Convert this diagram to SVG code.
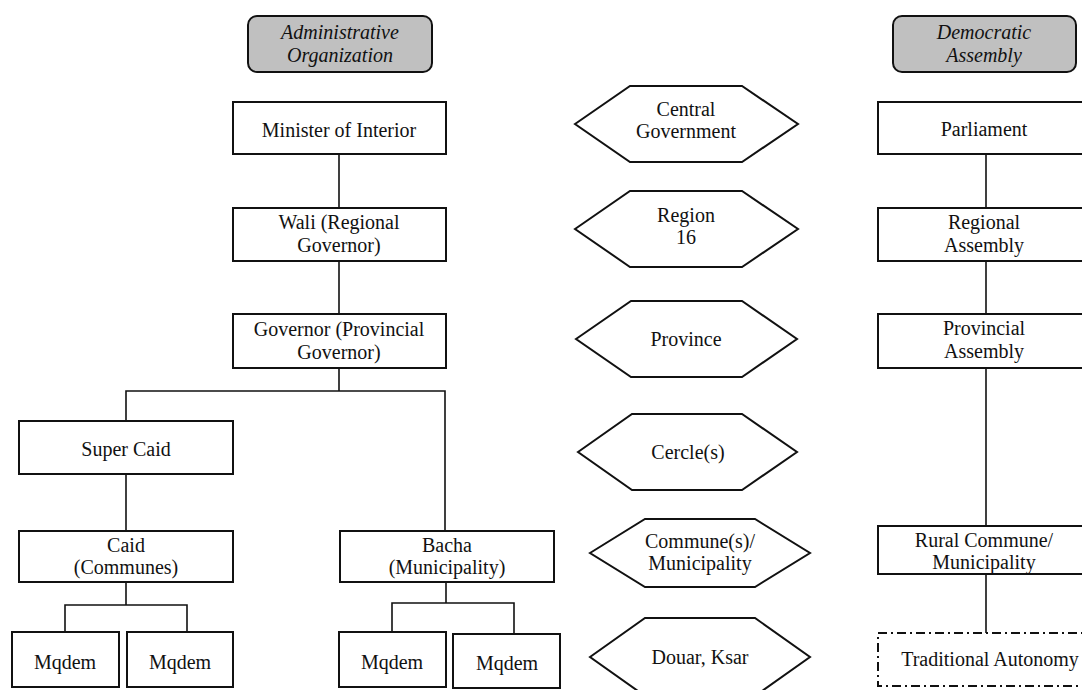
<svg xmlns="http://www.w3.org/2000/svg" width="1082" height="690" viewBox="0 0 1082 690" font-family="'Liberation Serif', 'Times New Roman', Times, serif">
  <style>
    text { font-family: 'Liberation Serif', 'Times New Roman', Times, serif; font-size: 20px; fill: #111; text-anchor: middle; }
    .head rect { fill: #c0c0c0; stroke: #111; stroke-width: 2; }
    .head text { font-style: italic; }
    .box rect, .hex polygon { fill: #fff; stroke: #111; stroke-width: 2; }
    .dashed rect { fill: #fff; stroke: #111; stroke-width: 2; stroke-dasharray: 9 4 2 4; }
    #connectors path { fill: none; stroke: #111; stroke-width: 1.6; }
  </style>

  <!-- connectors -->
  <g id="connectors">
    <path d="M339 154 V208 M339 261 V314"/>
    <path d="M339 368 V391 M126 421 V391 H445 V531"/>
    <path d="M126 474 V531"/>
    <path d="M126 582 V605 M65 632 V605 H187 V632"/>
    <path d="M446 582 V603 M392 632 V603 H514 V634"/>
    <path d="M986 154 V208 M986 261 V314 M986 368 V526 M986 574 V633"/>
  </g>

  <!-- column headings -->
  <g id="head-admin" class="head">
    <rect x="248" y="16" width="184" height="56" rx="9"/>
    <text x="340" y="39">Administrative</text>
    <text x="340" y="62">Organization</text>
  </g>
  <g id="head-democratic" class="head">
    <rect x="893" y="16" width="183" height="56" rx="9"/>
    <text x="984" y="39">Democratic</text>
    <text x="984" y="62">Assembly</text>
  </g>

  <!-- administrative organization -->
  <g id="minister" class="box">
    <rect x="233" y="102" width="213" height="52"/>
    <text x="339" y="137">Minister of Interior</text>
  </g>
  <g id="wali" class="box">
    <rect x="233" y="208" width="213" height="53"/>
    <text x="339" y="229">Wali (Regional</text>
    <text x="339" y="252">Governor)</text>
  </g>
  <g id="governor" class="box">
    <rect x="233" y="314" width="213" height="54"/>
    <text x="339" y="336">Governor (Provincial</text>
    <text x="339" y="359">Governor)</text>
  </g>
  <g id="super-caid" class="box">
    <rect x="19" y="421" width="214" height="53"/>
    <text x="126" y="456">Super Caid</text>
  </g>
  <g id="caid" class="box">
    <rect x="19" y="531" width="214" height="51"/>
    <text x="126" y="552">Caid</text>
    <text x="126" y="574">(Communes)</text>
  </g>
  <g id="bacha" class="box">
    <rect x="340" y="531" width="214" height="51"/>
    <text x="447" y="552">Bacha</text>
    <text x="447" y="574">(Municipality)</text>
  </g>
  <g id="mqdem-1" class="box">
    <rect x="12" y="632" width="107" height="55"/>
    <text x="65" y="669">Mqdem</text>
  </g>
  <g id="mqdem-2" class="box">
    <rect x="127" y="632" width="106" height="55"/>
    <text x="180" y="669">Mqdem</text>
  </g>
  <g id="mqdem-3" class="box">
    <rect x="339" y="632" width="107" height="55"/>
    <text x="392" y="669">Mqdem</text>
  </g>
  <g id="mqdem-4" class="box">
    <rect x="453" y="634" width="107" height="54"/>
    <text x="507" y="670">Mqdem</text>
  </g>

  <!-- territorial levels -->
  <g id="level-central" class="hex">
    <polygon points="575,124 630,86 742,86 798,124 742,162 630,162"/>
    <text x="686" y="116">Central</text>
    <text x="686" y="138">Government</text>
  </g>
  <g id="level-region" class="hex">
    <polygon points="575,229 630,191 742,191 798,229 742,267 630,267"/>
    <text x="686" y="222">Region</text>
    <text x="686" y="244">16</text>
  </g>
  <g id="level-province" class="hex">
    <polygon points="576,339 631,301 742,301 797,339 742,377 631,377"/>
    <text x="686" y="346">Province</text>
  </g>
  <g id="level-cercle" class="hex">
    <polygon points="578,452 632,414 742,414 797,452 742,490 632,490"/>
    <text x="688" y="459">Cercle(s)</text>
  </g>
  <g id="level-commune" class="hex">
    <polygon points="590,553 645,519 755,519 810,553 755,587 645,587"/>
    <text x="700" y="548">Commune(s)/</text>
    <text x="700" y="570">Municipality</text>
  </g>
  <g id="level-douar" class="hex">
    <polygon points="590,657 645,618 755,618 810,657 755,696 645,696"/>
    <text x="700" y="664">Douar, Ksar</text>
  </g>

  <!-- democratic assembly -->
  <g id="parliament" class="box">
    <rect x="878" y="102" width="213" height="52"/>
    <text x="984" y="136">Parliament</text>
  </g>
  <g id="regional-assembly" class="box">
    <rect x="878" y="208" width="213" height="53"/>
    <text x="984" y="229">Regional</text>
    <text x="984" y="252">Assembly</text>
  </g>
  <g id="provincial-assembly" class="box">
    <rect x="878" y="314" width="213" height="54"/>
    <text x="984" y="335">Provincial</text>
    <text x="984" y="358">Assembly</text>
  </g>
  <g id="rural-commune" class="box">
    <rect x="878" y="526" width="213" height="48"/>
    <text x="984" y="547">Rural Commune/</text>
    <text x="984" y="569">Municipality</text>
  </g>
  <g id="traditional-autonomy" class="dashed">
    <rect x="878" y="633" width="213" height="53"/>
    <text x="990" y="666">Traditional Autonomy</text>
  </g>
</svg>
